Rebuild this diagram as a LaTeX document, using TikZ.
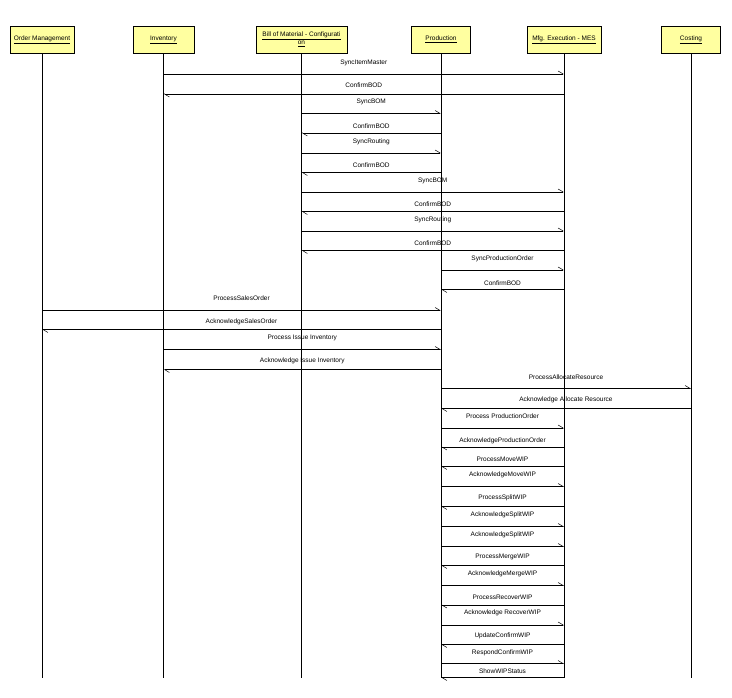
\documentclass[tikz,border=0pt]{standalone}
\usepackage{fontspec}
\setmainfont{Liberation Sans}
\usetikzlibrary{arrows.meta,positioning}
\definecolor{lanefill}{RGB}{255,255,160}

\begin{document}
\begin{tikzpicture}[x=1pt, y=-1pt,
  every node/.style={font=\fontsize{6.5}{8}\selectfont},
  lane/.style={draw, fill=lanefill, line width=0.8pt, minimum height=27pt, align=center, inner sep=1pt},
  life/.style={line width=0.8pt},
  msg/.style={line width=0.8pt, -{Straight Barb[left, length=5pt, width=6pt, line width=0.5pt]}}]
  \useasboundingbox (0,0) rectangle (732,698);
  % lanes
  \node[lane, minimum width=64pt] (om) at (42,39.5) {\underline{Order Management}};
  \node[lane, minimum width=61pt] (inv) at (163.5,39.5) {\underline{Inventory}};
  \node[lane, minimum width=91pt] (bom) at (301.5,39.5) {\underline{Bill of Material - Configurati}\\\underline{on}};
  \node[lane, minimum width=59pt] (prod) at (441,39.5) {\underline{Production}};
  \node[lane, minimum width=74pt] (mes) at (564,39.5) {\underline{Mfg. Execution - MES}};
  \node[lane, minimum width=59pt] (cost) at (691,39.5) {\underline{Costing}};
  % lifelines
  \foreach \n in {om,inv,bom,prod,mes,cost} {
    \draw[life] (\n.south) -- (\n.south |- 0,677.5);
  }
  % messages: from/to/line y/label y/text
  \foreach \a/\b/\ly/\ty/\t [count=\i] in {
    inv/mes/74/63/SyncItemMaster,
    mes/inv/94/85/ConfirmBOD,
    bom/prod/113.5/102/SyncBOM,
    prod/bom/133/126/ConfirmBOD,
    bom/prod/153/142/SyncRouting,
    prod/bom/172.5/165/ConfirmBOD,
    bom/mes/192/181/SyncBOM,
    mes/bom/211.5/204/ConfirmBOD,
    bom/mes/231/220/SyncRouting,
    mes/bom/250.5/243/ConfirmBOD,
    prod/mes/270/259/SyncProductionOrder,
    mes/prod/289.5/283/ConfirmBOD,
    om/prod/310.5/298/ProcessSalesOrder,
    prod/om/329.5/322/AcknowledgeSalesOrder,
    inv/prod/349.5/338/Process Issue Inventory,
    prod/inv/369.5/361/Acknowledge Issue Inventory,
    prod/cost/388.5/377/ProcessAllocateResource,
    cost/prod/408.5/400/Acknowledge Allocate Resource,
    prod/mes/428/416/Process ProductionOrder,
    mes/prod/447/441/AcknowledgeProductionOrder,
    mes/prod/466.5/459/ProcessMoveWIP,
    prod/mes/486.5/475/AcknowledgeMoveWIP,
    mes/prod/506.5/498/ProcessSplitWIP,
    prod/mes/526.5/515/AcknowledgeSplitWIP,
    prod/mes/546.5/535/AcknowledgeSplitWIP,
    mes/prod/565.5/557/ProcessMergeWIP,
    prod/mes/585.5/574/AcknowledgeMergeWIP,
    mes/prod/605/597/ProcessRecoverWIP,
    prod/mes/625/613/Acknowledge RecoverWIP,
    mes/prod/644.5/636/UpdateConfirmWIP,
    prod/mes/663.5/652.5/RespondConfirmWIP,
    mes/prod/677.5/671.5/ShowWIPStatus} {
    \draw[msg] (\a |- 0,\ly) -- (\b |- 0,\ly);
    \path (\a |- 0,\ty) -- (\b |- 0,\ty) node[midway] (m\i) {\t};
  }
\end{tikzpicture}
\end{document}
